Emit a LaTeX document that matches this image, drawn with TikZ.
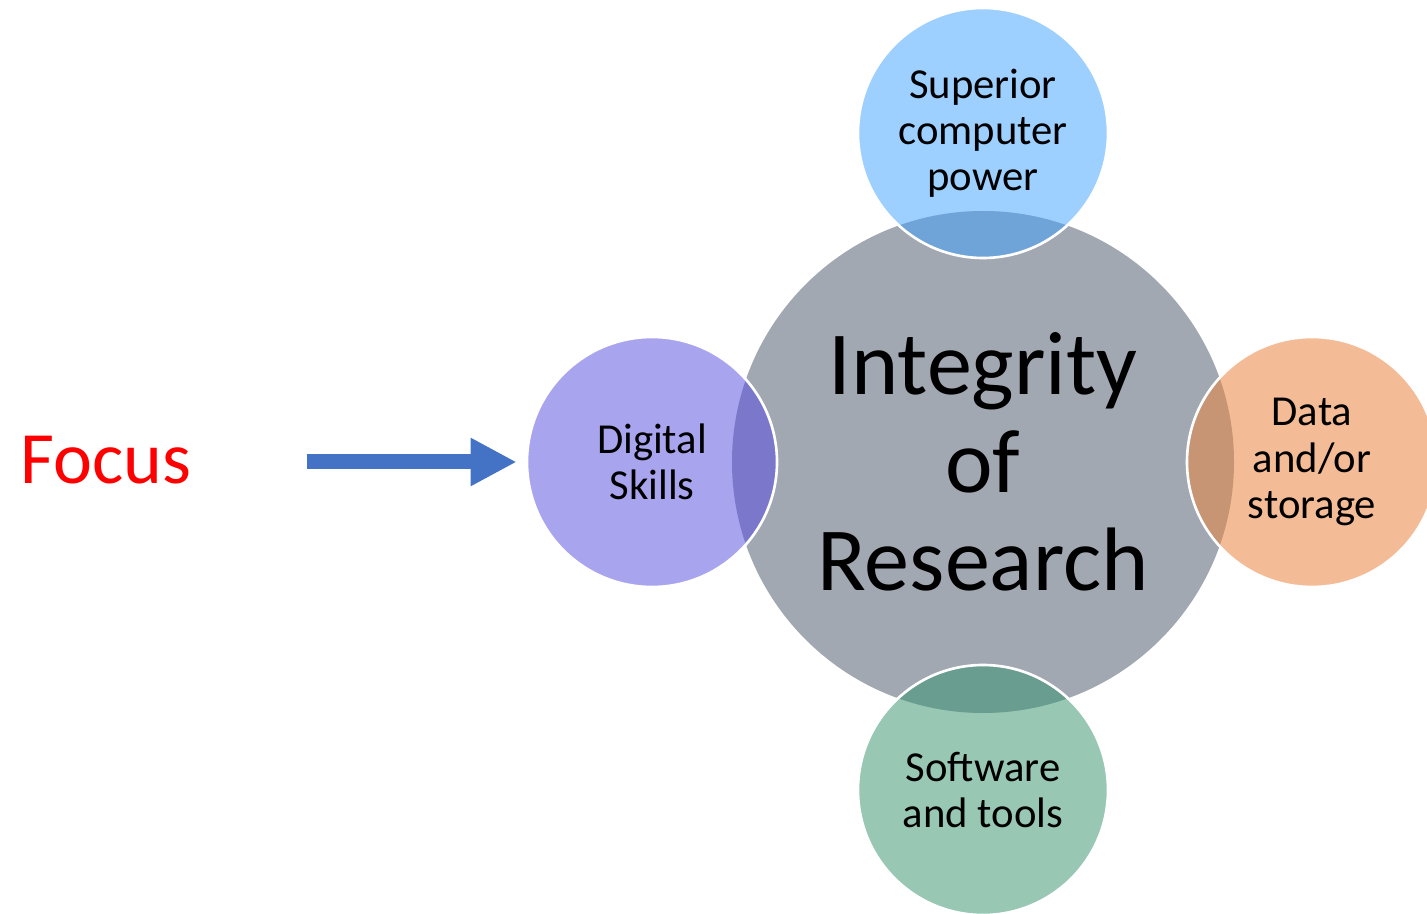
\documentclass[tikz,border=0pt]{standalone}
\usepackage{fontspec}
\setmainfont{Carlito}
\usetikzlibrary{arrows.meta}

\definecolor{gris}{HTML}{A2A8B2}
\definecolor{azul}{HTML}{9DCFFF}
\definecolor{azulosc}{HTML}{6FA4D8}
\definecolor{lila}{HTML}{A9A4EE}
\definecolor{lilaosc}{HTML}{7B78CB}
\definecolor{naranja}{HTML}{F4BC96}
\definecolor{naranjaosc}{HTML}{C79474}
\definecolor{verde}{HTML}{98C7B4}
\definecolor{verdeosc}{HTML}{699D8F}
\definecolor{flecha}{HTML}{4472C4}

\tikzset{
  chico/.style={circle, inner sep=0pt, minimum size=5cm, align=center,
    font=\fontsize{24.3}{26.2}\selectfont},
  borde/.style={white, line width=1.5pt}
}

\begin{document}
\begin{tikzpicture}
    \useasboundingbox (0,0) rectangle (28.54,-18.28);

    % Circulo central
    \node[circle, fill=gris, inner sep=0pt, minimum size=10.04cm, align=center,
      font=\fontsize{51.3}{55.8}\selectfont] (centro) at (19.66,-9.24)
      {Integrity\\of\\Research};

    % Circulo de arriba
    \node[chico, fill=azul] (arriba) at (19.66,-2.66) {Superior\\computer\\power};
    \begin{scope}
      \clip (centro.center) circle (5.02cm);
      \fill[azulosc] (arriba.center) circle (2.5cm);
    \end{scope}
    \draw[borde] (arriba.center) circle (2.5cm);

    % Circulo de la izquierda
    \node[chico, fill=lila] (izq) at (13.04,-9.24) {Digital\\Skills};
    \begin{scope}
      \clip (centro.center) circle (5.02cm);
      \fill[lilaosc] (izq.center) circle (2.5cm);
    \end{scope}
    \draw[borde] (izq.center) circle (2.5cm);

    % Circulo de la derecha
    \node[chico, fill=naranja] (der) at (26.24,-9.24) {Data\\and/or\\storage};
    \begin{scope}
      \clip (centro.center) circle (5.02cm);
      \fill[naranjaosc] (der.center) circle (2.5cm);
    \end{scope}
    \draw[borde] (der.center) circle (2.5cm);

    % Circulo de abajo
    \node[chico, fill=verde] (abajo) at (19.66,-15.8) {Software\\and tools};
    \begin{scope}
      \clip (centro.center) circle (5.02cm);
      \fill[verdeosc] (abajo.center) circle (2.5cm);
    \end{scope}
    \draw[borde] (abajo.center) circle (2.5cm);

    % Etiqueta y flecha
    \node[red, font=\fontsize{42}{44}\selectfont] (foco) at (2.12,-9.2) {Focus};
    \coordinate (inicio) at (6.14,-9.24);
    \draw[flecha, line width=0.3cm, -{Triangle[length=0.92cm, width=0.9cm]},
      shorten >=0.2cm] (inicio) -- (izq.west);

\end{tikzpicture}
\end{document}
